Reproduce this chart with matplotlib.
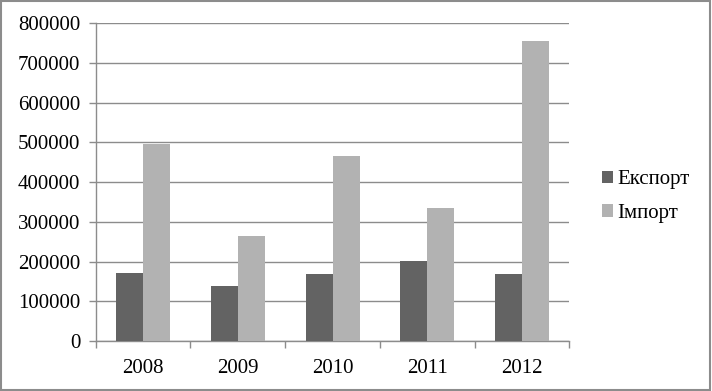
import matplotlib
matplotlib.use('Agg')
import matplotlib.pyplot as plt
import numpy as np

years = ['2008', '2009', '2010', '2011', '2012']
export_vals = [171000, 138500, 168800, 201500, 168800]
import_vals = [496000, 264500, 466000, 335000, 755700]
series_names = ['Експорт', 'Імпорт']

plt.rcParams['font.family'] = ['Liberation Serif', 'DejaVu Serif']
fs = 15

fig = plt.figure(figsize=(7.12, 3.91), dpi=100)
ax = fig.add_axes([0.1344, 0.1279, 0.7996 - 0.1344, 0.9404 - 0.1279])

x = np.arange(len(years))
w = 0.285
ax.bar(x - w / 2, export_vals, w, color='#636363', label=series_names[0], zorder=3)
ax.bar(x + w / 2, import_vals, w, color='#b2b2b2', label=series_names[1], zorder=3)

ax.set_xlim(-0.5, len(years) - 0.5)
ax.set_ylim(0, 800000)
ax.set_yticks(np.arange(0, 800001, 100000))
ax.set_yticklabels([str(v) for v in range(0, 800001, 100000)], fontsize=fs)
ax.yaxis.grid(True, color='#8c8c8c', linewidth=1, zorder=0)

ax.set_xticks(x)
ax.set_xticklabels(years, fontsize=fs)
ax.tick_params(axis='x', length=0, pad=13)
ax.set_xticks(np.arange(-0.5, len(years)), minor=True)
ax.tick_params(axis='x', which='minor', length=5, color='#8c8c8c', width=1)
ax.tick_params(axis='y', length=5, color='#8c8c8c', width=1, pad=6)

for s in ['top', 'right']:
    ax.spines[s].set_visible(False)
for s in ['left', 'bottom']:
    ax.spines[s].set_color('#8c8c8c')
    ax.spines[s].set_linewidth(1)

leg = ax.legend(loc='center left', bbox_to_anchor=(1.069, 0.455), frameon=False,
                fontsize=fs, handlelength=0.55, handleheight=0.55,
                handletextpad=0.2, labelspacing=0.7, borderpad=0, borderaxespad=0)

fig.patches.append(plt.Rectangle((0.002, 0.002), 0.995, 0.995, transform=fig.transFigure,
                                 fill=False, edgecolor='#8c8c8c', linewidth=1.5))

fig.savefig('out.png', dpi=100)
